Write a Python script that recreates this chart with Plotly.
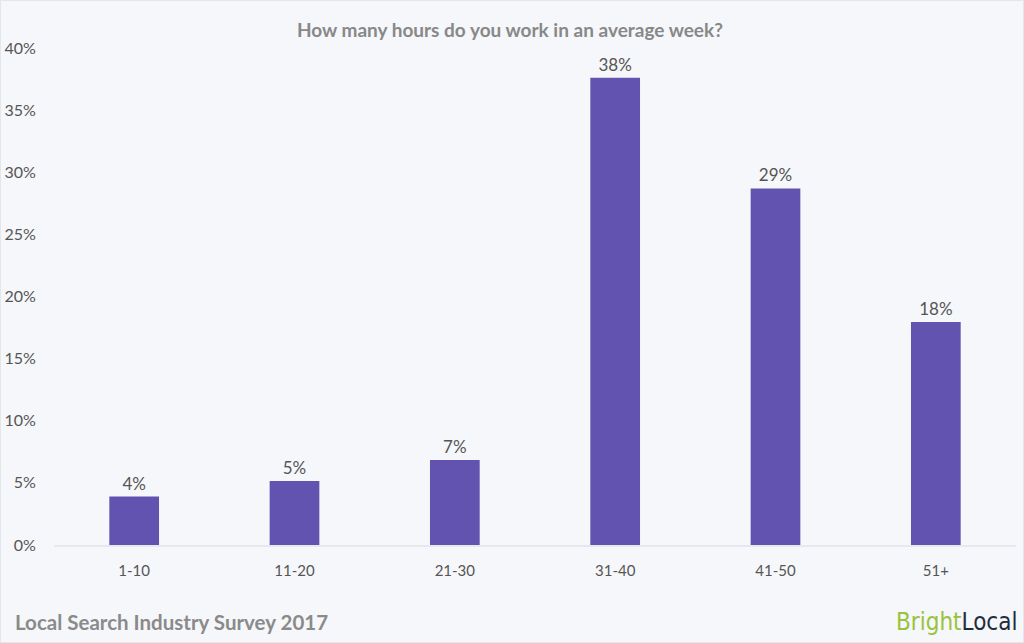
import plotly.graph_objects as go

categories = ["1-10", "11-20", "21-30", "31-40", "41-50", "51+"]
values = [3.9, 5.15, 6.85, 37.6, 28.7, 17.95]
labels = ["4%", "5%", "7%", "38%", "29%", "18%"]
y_ticks = [0, 5, 10, 15, 20, 25, 30, 35, 40]

FONT = "Lato"
W, H = 1024, 643
L, R, T, B = 54, 8, 48, 98
pw, ph = W - L - R, H - T - B

fig = go.Figure()

fig.add_trace(
    go.Bar(
        x=categories,
        y=values,
        text=labels,
        textposition="outside",
        textfont=dict(family=FONT, size=17, color="#555555"),
        marker=dict(color="#6353b0", line=dict(width=0)),
        cliponaxis=False,
    )
)

fig.update_layout(
    width=W,
    height=H,
    margin=dict(l=L, r=R, t=T, b=B, autoexpand=False),
    paper_bgcolor="#f5f7fa",
    plot_bgcolor="#f5f7fa",
    bargap=0.69,
    showlegend=False,
    font=dict(family=FONT, color="#555555"),
    title=dict(
        text="<b>How many hours do you work in an average week?</b>",
        x=0.498,
        xanchor="center",
        y=0.953,
        yanchor="middle",
        font=dict(family=FONT, size=19, color="#888888"),
    ),
    xaxis=dict(
        showgrid=False,
        showline=True,
        linecolor="#e6e8ee",
        linewidth=2,
        automargin=False,
        tickfont=dict(family=FONT, size=15, color="#555555"),
        ticks="outside",
        ticklen=11,
        tickcolor="rgba(0,0,0,0)",
    ),
    yaxis=dict(
        range=[0, 40],
        tickvals=y_ticks,
        ticktext=[f"{v}%" for v in y_ticks],
        showgrid=False,
        zeroline=False,
        automargin=False,
        tickfont=dict(family=FONT, size=16, color="#555555"),
        ticks="outside",
        ticklen=14,
        tickcolor="rgba(0,0,0,0)",
    ),
)

# thin frame round the whole picture
fig.add_shape(
    type="rect",
    xref="paper", yref="paper",
    x0=-L / pw, x1=1 + R / pw, y0=-B / ph, y1=1 + T / ph,
    line=dict(color="#e3e6eb", width=2),
    layer="below",
)

fig.add_annotation(
    text="<b>Local Search Industry Survey 2017</b>",
    xref="paper", yref="paper",
    x=-41 / pw, y=-77 / ph,
    xanchor="left", yanchor="middle",
    showarrow=False,
    font=dict(family=FONT, size=20.5, color="#8a8a8a"),
)
fig.add_annotation(
    text="<span style='color:#9bc23c'>Bright</span><span style='color:#1f2d3d'>Local</span>",
    xref="paper", yref="paper",
    x=1 + 3 / pw, y=-77 / ph,
    xanchor="right", yanchor="middle",
    showarrow=False,
    font=dict(family="DejaVu Sans Condensed, Roboto, Lato", size=24),
)

fig.write_html(
    "out.html",
    config={"displayModeBar": False},
    post_script="document.body.style.margin='0';document.body.style.background='#f5f7fa';",
)
